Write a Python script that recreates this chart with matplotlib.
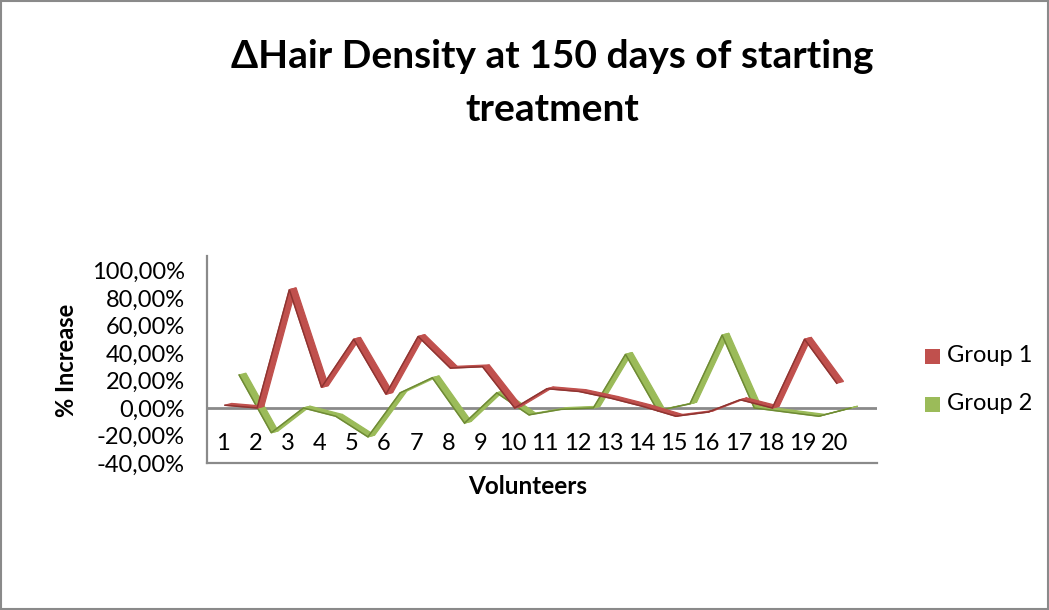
import matplotlib
matplotlib.use("Agg")
import matplotlib.pyplot as plt
from matplotlib.patches import Polygon, Rectangle

# Percentage increase of hair density per volunteer
volunteers = list(range(1, 21))
group1 = [2, 0, 86, 15, 50, 10, 52, 29, 30, 0, 14, 12, 7, 1, -6, -3, 6, 0, 50, 18]
group2 = [24, -18, 0, -6, -21, 11, 22, -11, 11, -5, -1, 0, 39, -2, 3, 53, 0, -3, -6, 0]
series_names = ["Group 1", "Group 2"]
y_ticks = [-40, -20, 0, 20, 40, 60, 80, 100]

title = "\u0394Hair Density at 150 days of starting\ntreatment"
y_title = "% Increase"
x_title = "Volunteers"

FONT = ["Lato", "DejaVu Sans"]
plt.rcParams["font.family"] = FONT

RED, RED_DARK = "#C0504D", "#8E3431"
GREEN, GREEN_DARK = "#9BBB59", "#6E8A35"
AXIS_GREY = "#8A8A8A"
LABEL_SIZE = 17

W, H = 1049, 610
fig = plt.figure(figsize=(W / 100, H / 100), dpi=100)
ax = fig.add_axes([207 / W, 1 - 463 / H, 670 / W, 207 / H])
ax.set_xlim(0.503, 21.31)
ax.set_ylim(-40, 110.5)

# ribbon depth (3-D look) in data units
DX, DY = 0.21, 1.3


def ribbon(values, offset, face, edge, z):
    xs = [v + offset for v in volunteers]
    for i in range(len(xs) - 1):
        x0, y0, x1, y1 = xs[i], values[i], xs[i + 1], values[i + 1]
        ax.add_patch(Polygon([(x0, y0), (x1, y1), (x1 + DX, y1 + DY), (x0 + DX, y0 + DY)],
                             closed=True, facecolor=face, edgecolor=face,
                             lw=0.9, zorder=z))
    ax.plot(xs, values, color=edge, lw=1.1, zorder=z + 0.1, solid_joinstyle="miter")


ax.axhline(0, color=AXIS_GREY, lw=2, zorder=1)
ribbon(group2, 0.50, GREEN, GREEN_DARK, 3)
ribbon(group1, 0.06, RED, RED_DARK, 5)

# axes styling
for side in ("top", "right"):
    ax.spines[side].set_visible(False)
for side in ("left", "bottom"):
    ax.spines[side].set_color(AXIS_GREY)
    ax.spines[side].set_linewidth(1.6)
ax.set_xticks([])
ax.set_yticks(y_ticks)
ax.set_yticklabels([f"{v:.2f}%".replace(".", ",") for v in y_ticks])
ax.tick_params(axis="y", length=0, pad=16, labelsize=LABEL_SIZE)

# category labels sit between the zero line and the floor
for v in volunteers:
    ax.text(v, -25.5, str(v), ha="center", va="center", fontsize=LABEL_SIZE)

fig.text(67 / W, 1 - 360 / H, y_title, rotation=90, ha="center", va="center",
         fontsize=LABEL_SIZE, fontweight="bold")
fig.text(528 / W, 1 - 487 / H, x_title, ha="center", va="center",
         fontsize=LABEL_SIZE + 0.5, fontweight="bold")
fig.text(552 / W, 1 - 83 / H, title, ha="center", va="center", fontsize=28,
         fontweight="bold", linespacing=1.62)

# legend
for i, (name, col) in enumerate(zip(series_names, [RED, GREEN])):
    yc = 356 + i * 48
    fig.patches.append(Rectangle((925 / W, 1 - (yc + 7.5) / H), 15 / W, 15 / H,
                                 transform=fig.transFigure, facecolor=col,
                                 edgecolor="none"))
    fig.text(947 / W, 1 - yc / H, name, ha="left", va="center", fontsize=LABEL_SIZE)

# chart border
fig.patches.append(Rectangle((1 / W, 1 / H), (W - 2) / W, (H - 2) / H,
                             transform=fig.transFigure, fill=False,
                             edgecolor=AXIS_GREY, lw=1.5))

fig.savefig("out.png", dpi=100)
